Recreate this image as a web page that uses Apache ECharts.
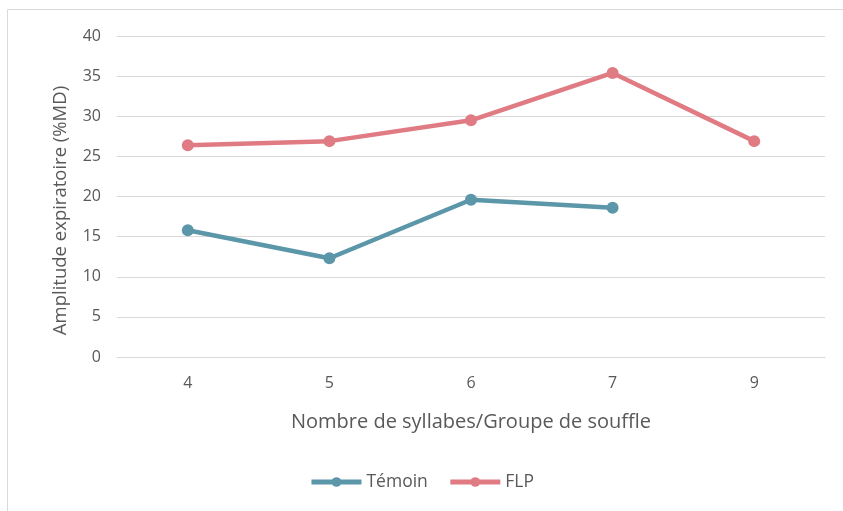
<!DOCTYPE html>
<html><head><meta charset="utf-8">
<script src="https://cdn.jsdelivr.net/npm/echarts@6/dist/echarts.min.js"></script>
<style>html,body{margin:0;padding:0;background:#fff}#c{width:843px;height:511px}</style>
</head><body><div id="c"></div>
<script>
const categories = ['4','5','6','7','9'];
const temoin = [15.8, 12.3, 19.6, 18.6, null];
const flp = [26.4, 26.9, 29.5, 35.4, 26.9];
const chart = echarts.init(document.getElementById('c'));
const font = 'Open Sans';
const grey = '#595959';
chart.setOption({
  animation: false,
  textStyle: {fontFamily: font},
  graphic: [{type:'rect', shape:{x:7.5,y:9.5,width:850,height:520}, style:{fill:'none', stroke:'#d9d9d9', lineWidth:1}, z:-1}],
  grid: {left:117, right:18, top:36, bottom:154},
  legend: {bottom:15, left:'center', itemWidth:50, itemHeight:12, itemGap:20,
    textStyle:{color:grey, fontSize:17.5, fontFamily:font},
    lineStyle:{width:5},
    data:['Témoin','FLP']},
  xAxis: {type:'category', data:categories, boundaryGap:true,
    name:'Nombre de syllabes/Groupe de souffle', nameLocation:'middle', nameGap:55,
    nameTextStyle:{color:grey, fontSize:20, fontFamily:font},
    axisLine:{lineStyle:{color:'#d9d9d9', width:1}}, axisTick:{show:false},
    axisLabel:{color:grey, fontSize:16, margin:18, fontFamily:font}},
  yAxis: {type:'value', min:0, max:40, interval:5,
    name:'Amplitude expiratoire (%MD)', nameLocation:'middle', nameGap:47,
    nameTextStyle:{color:grey, fontSize:18.5, fontFamily:font, padding:[0,28,0,0]},
    axisLine:{show:false}, axisTick:{show:false},
    axisLabel:{color:grey, fontSize:16, margin:16, fontFamily:font},
    splitLine:{lineStyle:{color:'#d9d9d9', width:1}}},
  series: [
    {name:'Témoin', type:'line', data:temoin, symbol:'circle', symbolSize:12,
     lineStyle:{width:4.5, color:'#5B96A9'}, itemStyle:{color:'#5B96A9'}},
    {name:'FLP', type:'line', data:flp, symbol:'circle', symbolSize:12,
     lineStyle:{width:4.5, color:'#E07B84'}, itemStyle:{color:'#E07B84'}}
  ]
});
</script></body></html>
